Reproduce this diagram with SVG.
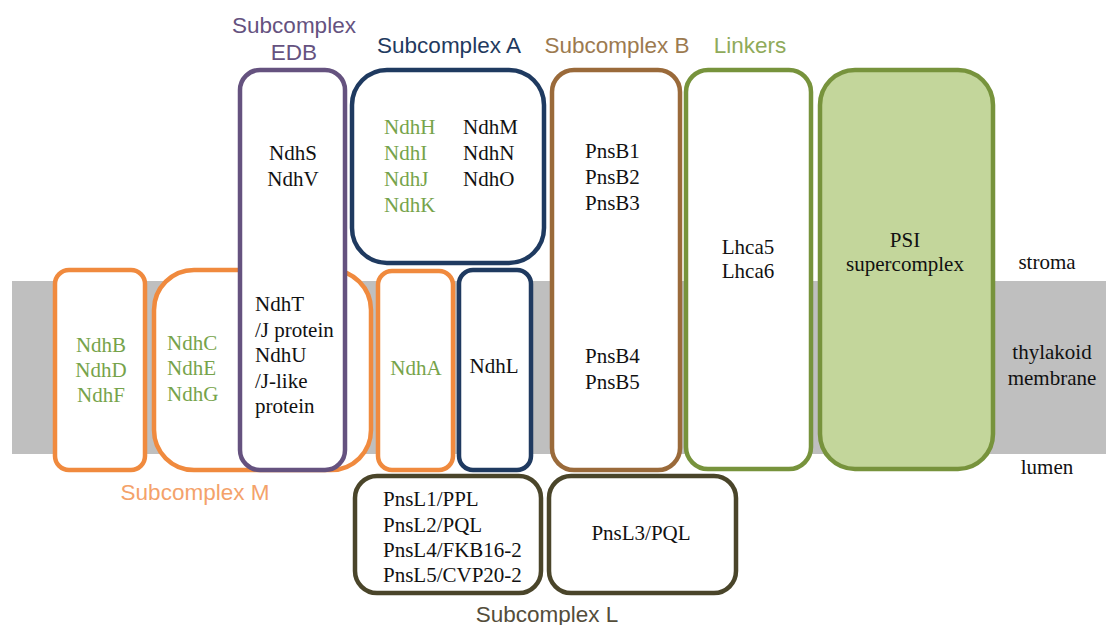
<svg xmlns="http://www.w3.org/2000/svg" width="1106" height="625" viewBox="0 0 1106 625">
<style>
.box{fill:#fff;stroke-width:4.5}
.or{stroke:#f08a3e}
.pu{stroke:#65527f}
.nv{stroke:#1f3a60}
.br{stroke:#9a6a3a}
.gr{stroke:#77933c}
.ol{stroke:#4a452a}
.t{font-family:"Liberation Serif","Times New Roman",serif;font-size:21px;fill:#111}
.g{fill:#76a34a}
.c{text-anchor:middle}
.h{font-family:"Liberation Sans",Arial,sans-serif;font-size:22.5px;text-anchor:middle}
</style>
<rect x="12" y="281" width="1094" height="173" fill="#bfbfbf"/>
<g id="connectors"/>
<g id="ndhBDF">
<rect class="box or" x="55" y="270" width="90" height="200" rx="14"/>
<text class="t g c" x="101" y="352">NdhB</text>
<text class="t g c" x="101" y="377">NdhD</text>
<text class="t g c" x="101" y="402">NdhF</text>
</g>
<g id="ndhCEG">
<rect class="box or" x="154" y="270" width="217" height="200" rx="40"/>
<text class="t g" x="167" y="350">NdhC</text>
<text class="t g" x="167" y="375">NdhE</text>
<text class="t g" x="167" y="401">NdhG</text>
</g>
<g id="edb">
<rect class="box pu" x="240" y="70" width="105" height="400" rx="20"/>
<text class="t c" x="293" y="160">NdhS</text>
<text class="t c" x="293" y="186">NdhV</text>
<text class="t" x="255" y="311">NdhT</text>
<text class="t" x="255" y="337">/J protein</text>
<text class="t" x="255" y="362">NdhU</text>
<text class="t" x="255" y="388">/J-like</text>
<text class="t" x="255" y="413">protein</text>
</g>
<g id="subA">
<rect class="box nv" x="352" y="70" width="192" height="193" rx="35"/>
<text class="t g" x="384" y="134">NdhH</text>
<text class="t g" x="384" y="160">NdhI</text>
<text class="t g" x="384" y="186">NdhJ</text>
<text class="t g" x="384" y="212">NdhK</text>
<text class="t" x="463" y="134">NdhM</text>
<text class="t" x="463" y="160">NdhN</text>
<text class="t" x="463" y="186">NdhO</text>
</g>
<g id="ndhA">
<rect class="box or" x="378" y="271" width="75" height="199" rx="14"/>
<text class="t g c" x="416" y="375">NdhA</text>
</g>
<g id="ndhL">
<rect class="box nv" x="459" y="270" width="72" height="200" rx="14"/>
<text class="t c" x="494" y="373">NdhL</text>
</g>
<g id="subB">
<rect class="box br" x="552" y="70" width="128" height="400" rx="22"/>
<text class="t" x="585" y="158">PnsB1</text>
<text class="t" x="585" y="184">PnsB2</text>
<text class="t" x="585" y="210">PnsB3</text>
<text class="t" x="585" y="363">PnsB4</text>
<text class="t" x="585" y="389">PnsB5</text>
</g>
<g id="linkers">
<rect class="box gr" x="686" y="70" width="125" height="399" rx="22"/>
<text class="t c" x="748" y="254">Lhca5</text>
<text class="t c" x="748" y="278">Lhca6</text>
</g>
<g id="psi">
<rect class="box gr" x="820" y="70" width="173" height="399" rx="35" style="fill:#c3d69b"/>
<text class="t c" x="905" y="247">PSI</text>
<text class="t c" x="905" y="271">supercomplex</text>
</g>
<g id="subL1">
<rect class="box ol" x="355" y="476" width="186" height="117" rx="22"/>
<text class="t" x="383" y="506">PnsL1/PPL</text>
<text class="t" x="383" y="532">PnsL2/PQL</text>
<text class="t" x="383" y="557">PnsL4/FKB16-2</text>
<text class="t" x="383" y="582">PnsL5/CVP20-2</text>
</g>
<g id="subL2">
<rect class="box ol" x="549" y="476" width="187" height="117" rx="22"/>
<text class="t c" x="641" y="540">PnsL3/PQL</text>
</g>
<g id="labels">
<text class="h" x="294" y="33" fill="#65527f">Subcomplex</text>
<text class="h" x="294" y="60" fill="#65527f">EDB</text>
<text class="h" x="449" y="53" fill="#1f3a60">Subcomplex A</text>
<text class="h" x="617" y="53" fill="#9c7a4f">Subcomplex B</text>
<text class="h" x="750" y="53" fill="#8faa5a">Linkers</text>
<text class="h" x="195" y="500" fill="#f4a26a">Subcomplex M</text>
<text class="h" x="547" y="622" fill="#544d3a">Subcomplex L</text>
<text class="t c" x="1047" y="269">stroma</text>
<text class="t c" x="1052" y="359">thylakoid</text>
<text class="t c" x="1052" y="385">membrane</text>
<text class="t c" x="1047" y="474">lumen</text>
</g>
</svg>
